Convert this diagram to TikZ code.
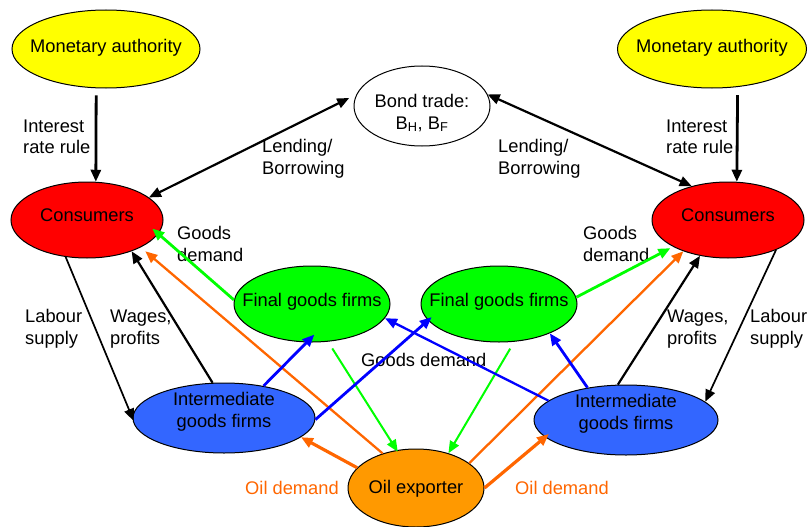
\documentclass[tikz,border=0pt]{standalone}
\usepackage{fontspec}
\setmainfont{Liberation Sans}
\usetikzlibrary{arrows.meta, shapes.geometric}
\definecolor{AuthYellow}{RGB}{255,255,0}
\definecolor{ConsRed}{RGB}{255,0,0}
\definecolor{FinalGreen}{RGB}{0,255,0}
\definecolor{InterBlue}{RGB}{51,102,255}
\definecolor{OilFill}{RGB}{255,153,0}
\definecolor{OilLine}{RGB}{255,102,0}
\definecolor{FlowBlue}{RGB}{0,0,255}
\newcommand{\elltext}[2][0pt]{\raisebox{#1}[\height][\depth]{\makebox[0pt]{\begin{tabular}{@{}c@{}}#2\end{tabular}}}}

\begin{document}
\begin{tikzpicture}[x=1pt,y=-1pt,
    agent/.style={ellipse,draw=black,line width=1pt,inner sep=0pt,
      font=\fontsize{18.3}{21.5}\selectfont},
    lbl/.style={anchor=west,align=left,inner sep=0pt,
      font=\fontsize{18.3}{21.5}\selectfont},
    flow/.style={-{Triangle[length=12pt,width=10pt]}},
    both/.style={{Triangle[length=12pt,width=10pt]}-{Triangle[length=12pt,width=10pt]}}]
  \useasboundingbox (0,0) rectangle (811,527);
  % agents
  \node[agent,fill=AuthYellow,minimum width=188pt,minimum height=78pt] (maL) at (106,49) {\elltext[1pt]{Monetary authority}};
  \node[agent,fill=AuthYellow,minimum width=189pt,minimum height=78pt] (maR) at (712,49) {\elltext[1pt]{Monetary authority}};
  \node[agent,fill=white,minimum width=136pt,minimum height=80pt] (bond) at (422,106) {\elltext[-8pt]{Bond trade:\\B\textsubscript{H}, B\textsubscript{F}}};
  \node[agent,fill=ConsRed,minimum width=152pt,minimum height=76pt] (conL) at (87,220) {\elltext[3pt]{Consumers}};
  \node[agent,fill=ConsRed,minimum width=152pt,minimum height=76pt] (conR) at (728,220) {\elltext[3pt]{Consumers}};
  \node[agent,fill=FinalGreen,minimum width=156pt,minimum height=76pt] (finL) at (312,304) {\elltext[2pt]{Final goods firms}};
  \node[agent,fill=FinalGreen,minimum width=156pt,minimum height=76pt] (finR) at (499,304) {\elltext[2pt]{Final goods firms}};
  \node[agent,fill=InterBlue,minimum width=182pt,minimum height=70pt] (intL) at (224,418) {\elltext[6pt]{Intermediate\\goods firms}};
  \node[agent,fill=InterBlue,minimum width=184pt,minimum height=70pt] (intR) at (626,420) {\elltext[6pt]{Intermediate\\goods firms}};
  \node[agent,fill=OilFill,minimum width=136pt,minimum height=78pt] (oil) at (416,488) {\elltext[-1pt]{Oil exporter}};
  % labels
  \node[lbl] (irL) at (23,137) {Interest\\rate rule};
  \node[lbl] (irR) at (666,137) {Interest\\rate rule};
  \node[lbl] (lbL) at (262,159) {Lending/\\Borrowing};
  \node[lbl] (lbR) at (498,159) {Lending/\\Borrowing};
  \node[lbl] (gdL) at (177,244) {Goods\\demand};
  \node[lbl] (gdR) at (583,244) {Goods\\demand};
  \node[lbl] (lsL) at (25,329) {Labour\\supply};
  \node[lbl] (wpL) at (110,329) {Wages,\\profits};
  \node[lbl] (wpR) at (667,329) {Wages,\\profits};
  \node[lbl] (lsR) at (750,329) {Labour\\supply};
  \node[lbl] (gdC) at (361,360) {Goods demand};
  \node[lbl,text=OilLine] (odL) at (245,488) {Oil demand};
  \node[lbl,text=OilLine] (odR) at (515,488) {Oil demand};
  % interest rate rule and bonds
  \draw[flow,line width=2.8pt,shorten <=7pt] (maL.256) -- (conL.77);
  \draw[flow,line width=2.8pt,shorten <=8pt] (maR.304) -- (conR.77);
  \draw[both,line width=2.2pt,shorten >=8pt] (conL.20) -- (bond.170);
  \draw[both,line width=2.2pt] (bond.10) -- (conR.137);
  % labour and wages
  \draw[flow,line width=1.7pt,shorten >=-3pt] (conL.240) -- (intL.west);
  \draw[flow,line width=2.2pt] (intL.108) -- (conL.325);
  \draw[flow,line width=1.7pt] (conR.328) -- (intR.13);
  \draw[flow,line width=2.2pt] (intR.103) -- (conR.232);
  % goods demand
  \draw[flow,FinalGreen,line width=2.8pt,shorten >=-8pt] (finL.177) -- (conL.349);
  \draw[flow,FinalGreen,line width=2.8pt,shorten >=3pt] (finR.5) -- (conR.206);
  \draw[flow,FinalGreen,line width=2pt,shorten <=8pt,shorten >=-2pt] (finL.293) -- (oil.117);
  \draw[flow,FinalGreen,line width=2pt,shorten <=8pt] (finR.292) -- (oil.47);
  % oil demand
  \draw[flow,OilLine,line width=2.3pt,shorten >=6pt] (oil.134) -- (conL.333);
  \draw[flow,OilLine,line width=2.3pt] (oil.25) -- (conR.215);
  \draw[flow,OilLine,line width=3.2pt] (oil.161) -- (intL.346);
  \draw[flow,OilLine,line width=3.2pt,shorten >=-5pt] (oil.east) -- (intR.192);
  % intermediate goods
  \draw[flow,FlowBlue,line width=2.8pt,shorten >=-11pt] (intL.39) -- (finL.262);
  \draw[flow,FlowBlue,line width=2.8pt,shorten >=-5pt] (intL.359) -- (finR.193);
  \draw[flow,FlowBlue,line width=2.3pt] (intR.166) -- (finL.349);
  \draw[flow,FlowBlue,line width=2.8pt] (intR.140) -- (finR.330);
\end{tikzpicture}
\end{document}
